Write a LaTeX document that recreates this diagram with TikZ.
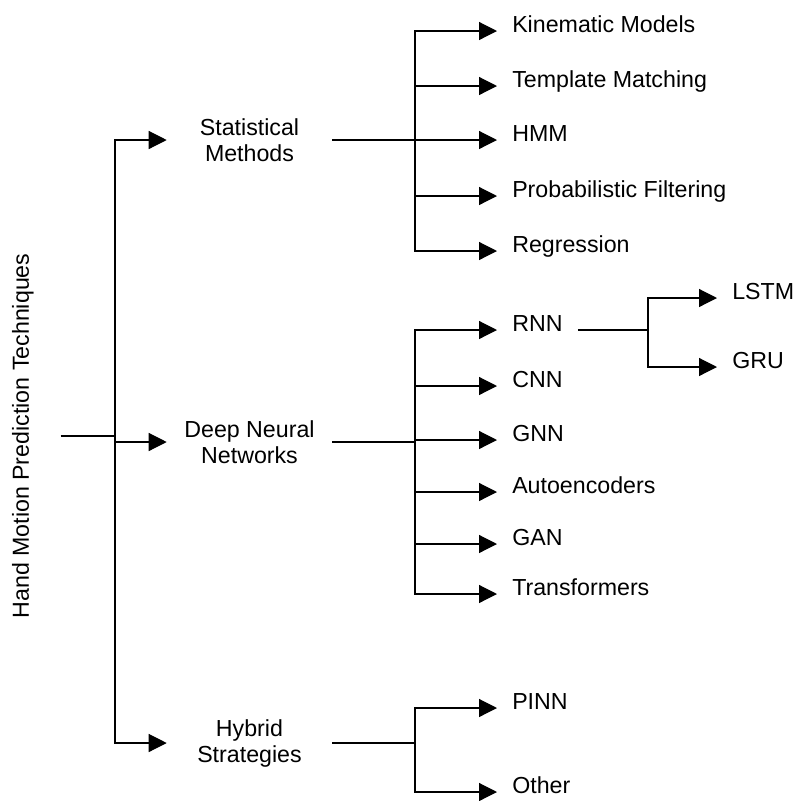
\documentclass[tikz,border=0pt]{standalone}
\usepackage{fontspec}
\setmainfont{Liberation Sans}
\usetikzlibrary{arrows.meta}

\tikzset{
  txt/.style={font=\fontsize{17.4}{19.5}\selectfont, inner sep=0pt},
  group/.style={txt, align=center, minimum width=123.75pt},
  leaf/.style={txt, anchor=west, inner xsep=11.25pt, text height=12.5pt, text depth=10.25pt},
  trunk/.style={line width=1.5pt},
  branch/.style={line width=0.9pt, -{Triangle[length=13.5pt,width=13.5pt]}},
}

\begin{document}
\begin{tikzpicture}[x=0.75pt,y=0.75pt,yscale=-1,xscale=1]
\useasboundingbox (0,0) rectangle (794,801);

% Root Node
\draw (23,436) node [txt, rotate=90, inner ysep=20pt] (root) {Hand Motion Prediction Techniques};

% Group Nodes
\draw (249.5,140) node [group] (stat) {Statistical\\Methods};
\draw (249.5,442) node [group] (deep) {Deep Neural\\Networks};
\draw (249.5,743) node [group] (hyb) {Hybrid\\Strategies};

% Text Node
\draw (497,31) node [leaf] (kin) {Kinematic Models};
\draw (497,86) node [leaf] (tpl) {Template Matching};
\draw (497,140) node [leaf] (hmm) {HMM};
\draw (497,196) node [leaf] (prob) {Probabilistic Filtering};
\draw (497,251) node [leaf] (reg) {Regression};
% Text Node
\draw (497,330) node [leaf] (rnn) {RNN};
\draw (497,386) node [leaf] (cnn) {CNN};
\draw (497,440) node [leaf] (gnn) {GNN};
\draw (497,492) node [leaf] (auto) {Autoencoders};
\draw (497,544) node [leaf] (gan) {GAN};
\draw (497,594) node [leaf] (trf) {Transformers};
% Text Node
\draw (717,298) node [leaf] (lstm) {LSTM};
\draw (717,367) node [leaf] (gru) {GRU};
% Text Node
\draw (497,708) node [leaf] (pinn) {PINN};
\draw (497,792) node [leaf] (other) {Other};

% Bus Points
\coordinate (rootbus) at (115,436);
\coordinate (statbus) at (415,140);
\coordinate (deepbus) at (415,442);
\coordinate (rnnbus) at (648,330);
\coordinate (hybbus) at (415,743);

%Straight Lines
\draw [trunk] (root.south) -- (rootbus);
\foreach \g in {stat,deep,hyb}
  \draw [branch] (rootbus) |- (\g.west);

\draw [trunk] (stat.east) -- (statbus);
\foreach \n in {kin,tpl,hmm,prob,reg}
  \draw [branch] (statbus) |- (\n.west);

\draw [trunk] (deep.east) -- (deepbus);
\foreach \n in {rnn,cnn,gnn,auto,gan,trf}
  \draw [branch] (deepbus) |- (\n.west);

\draw [trunk] (rnn.east) -- (rnnbus);
\foreach \n in {lstm,gru}
  \draw [branch] (rnnbus) |- (\n.west);

\draw [trunk] (hyb.east) -- (hybbus);
\foreach \n in {pinn,other}
  \draw [branch] (hybbus) |- (\n.west);

\end{tikzpicture}
\end{document}
